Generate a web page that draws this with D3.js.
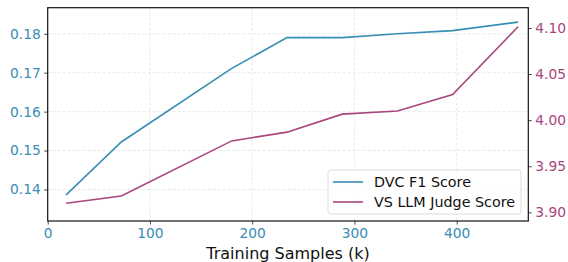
<!DOCTYPE html>
<html>
<head>
<meta charset="utf-8">
<script src="https://cdn.jsdelivr.net/npm/d3@7"></script>
<style>
  body { margin: 0; background: #fff; }
  svg { display: block; font-family: "DejaVu Sans", sans-serif; }
</style>
</head>
<body>
<svg id="chart" width="568" height="262"></svg>
<script>
// training samples (k)
var samples = [18, 72, 180, 234, 288, 342, 396, 460];
// DVC F1 score (left axis)
var dvcF1 = [0.1386, 0.1522, 0.1711, 0.1790, 0.1790, 0.1800, 0.1808, 0.1830];
// VS LLM judge score (right axis)
var vsJudge = [3.9098, 3.9177, 3.9775, 3.9870, 4.0065, 4.0100, 4.0278, 4.1014];

var xTicks = [0, 100, 200, 300, 400];
var leftTicks = [0.14, 0.15, 0.16, 0.17, 0.18];
var rightTicks = [3.90, 3.95, 4.00, 4.05, 4.10];

var blue = "#3a8db5";
var purple = "#a8467c";

var svg = d3.select("#chart");
var mLeft = 47.7, mRight = 528.3, mTop = 7.7, mBottom = 221;

var x = d3.scaleLinear().domain([0, 470]).range([mLeft, mRight]);
var yL = d3.scaleLinear().domain([0.1319, 0.1867]).range([mBottom, mTop]);
var yR = d3.scaleLinear().domain([3.8906, 4.122]).range([mBottom, mTop]);

// grid
var grid = svg.append("g").attr("class", "grid");
grid.selectAll("line.v")
    .data(xTicks.filter(function(d) { return d > 0; }))
    .enter().append("line")
    .attr("x1", function(d) { return x(d); })
    .attr("x2", function(d) { return x(d); })
    .attr("y1", mTop).attr("y2", mBottom)
    .attr("stroke", "#e2e2e2").attr("stroke-width", 0.8)
    .attr("stroke-dasharray", "3,2");
grid.selectAll("line.h")
    .data(leftTicks)
    .enter().append("line")
    .attr("x1", mLeft).attr("x2", mRight)
    .attr("y1", function(d) { return yL(d); })
    .attr("y2", function(d) { return yL(d); })
    .attr("stroke", "#e2e2e2").attr("stroke-width", 0.8)
    .attr("stroke-dasharray", "3,2");

// lines
var lineL = d3.line()
    .x(function(d, i) { return x(samples[i]); })
    .y(function(d) { return yL(d); });
var lineR = d3.line()
    .x(function(d, i) { return x(samples[i]); })
    .y(function(d) { return yR(d); });

svg.append("path").datum(dvcF1)
    .attr("d", lineL)
    .attr("fill", "none").attr("stroke", blue).attr("stroke-width", 1.6);
svg.append("path").datum(vsJudge)
    .attr("d", lineR)
    .attr("fill", "none").attr("stroke", purple).attr("stroke-width", 1.6);

// axes
function styleAxis(g, color) {
    g.select(".domain").remove();
    g.selectAll(".tick line").attr("stroke", "#333").attr("stroke-width", 0.9);
    g.selectAll(".tick text").attr("fill", color).style("font-size", "13.8px")
        .style("font-family", "DejaVu Sans, sans-serif");
}

var gx = svg.append("g")
    .attr("transform", "translate(0," + mBottom + ")")
    .call(d3.axisBottom(x).tickValues(xTicks).tickFormat(d3.format("d")).tickSize(3.5).tickPadding(3.5));
styleAxis(gx, blue);

var gl = svg.append("g")
    .attr("transform", "translate(" + mLeft + ",0)")
    .call(d3.axisLeft(yL).tickValues(leftTicks).tickFormat(d3.format(".2f")).tickSize(3.5).tickPadding(3.5));
styleAxis(gl, blue);

var gr = svg.append("g")
    .attr("transform", "translate(" + mRight + ",0)")
    .call(d3.axisRight(yR).tickValues(rightTicks).tickFormat(d3.format(".2f")).tickSize(3.5).tickPadding(3.5));
styleAxis(gr, purple);

// frame
svg.append("rect")
    .attr("x", mLeft).attr("y", mTop)
    .attr("width", mRight - mLeft).attr("height", mBottom - mTop)
    .attr("fill", "none").attr("stroke", "#111").attr("stroke-width", 1.2);

// x label
svg.append("text")
    .attr("x", (mLeft + mRight) / 2).attr("y", 259)
    .attr("text-anchor", "middle")
    .style("font-size", "16px")
    .attr("fill", "#111")
    .text("Training Samples (k)");

// legend
var legendItems = [
    { label: "DVC F1 Score", color: blue },
    { label: "VS LLM Judge Score", color: purple }
];
var lg = svg.append("g").attr("transform", "translate(328,170)");
lg.append("rect")
    .attr("width", 193).attr("height", 44).attr("rx", 3)
    .attr("fill", "rgba(255,255,255,0.85)")
    .attr("stroke", "#d8d8d8").attr("stroke-width", 0.9);
var item = lg.selectAll("g.item")
    .data(legendItems)
    .enter().append("g")
    .attr("transform", function(d, i) { return "translate(0," + (12 + i * 20) + ")"; });
item.append("line")
    .attr("x1", 5).attr("x2", 35)
    .attr("stroke", function(d) { return d.color; })
    .attr("stroke-width", 1.6);
item.append("text")
    .attr("x", 46).attr("y", 0).attr("dy", "0.35em")
    .style("font-size", "14.3px")
    .attr("fill", "#111")
    .text(function(d) { return d.label; });
</script>
</body>
</html>
